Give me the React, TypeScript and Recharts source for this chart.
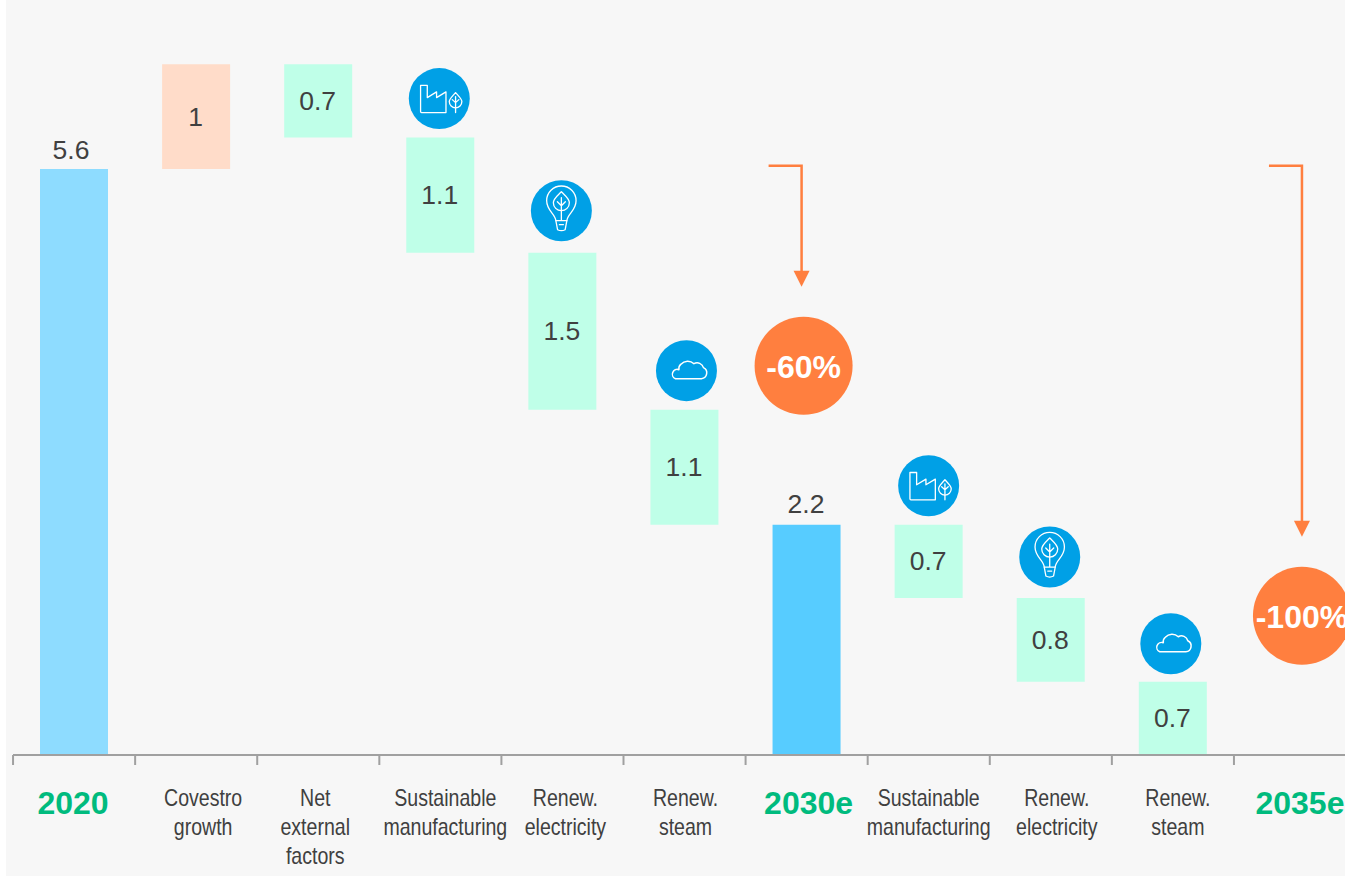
import React from "react";
import { BarChart, Bar, XAxis, YAxis, Cell, LabelList, ReferenceDot } from "recharts";

const categories = ["2020", "Covestro growth", "Net external factors", "Sustainable manufacturing", "Renew. electricity", "Renew. steam", "2030e", "Sustainable manufacturing ", "Renew. electricity ", "Renew. steam ", "2035e"];
const tickLines = [["2020"], ["Covestro", "growth"], ["Net", "external", "factors"], ["Sustainable", "manufacturing"], ["Renew.", "electricity"], ["Renew.", "steam"], ["2030e"], ["Sustainable", "manufacturing"], ["Renew.", "electricity"], ["Renew.", "steam"], ["2035e"]];
const baseValues = [0, 5.6, 5.9, 4.8, 3.3, 2.2, 0, 1.5, 0.7, 0, 0];
const barValues = [5.6, 1, 0.7, 1.1, 1.5, 1.1, 2.2, 0.7, 0.8, 0.7, 0];
const barKinds = ["light", "up", "down", "down", "down", "down", "mid", "down", "down", "down", "none"];
const icons = ["", "", "", "factory", "bulb", "cloud", "", "factory", "bulb", "cloud", ""];
const tickNudges = [-1, 7, -3, 5, 3, 1, 2, 0, 6, 5, 5];
const iconNudgeX = [0, 0, 0, 0, 0, 3, 0, 1, 0, -1, 0];
const iconLift = [0, 0, 0, 39, 42, 39, 0, 39, 41, 38, 0];

const rows = categories.map((name, i) => ({ name, base: baseValues[i], value: barValues[i] }));
const kindFill: Record<string, string> = { light: "#8edcff", mid: "#57ccff", up: "#ffdcc9", down: "#bfffe8", none: "transparent" };
const ORANGE = "#ff7f3f";
const BLUE = "#00a0e6";
const TICK_GRAY = "#a0a0a0";
const FONT = "'Liberation Sans', Arial, sans-serif";

function AxisTick(props: any) {
  const { x, y, index } = props;
  const lines = tickLines[index];
  const isYear = lines.length === 1;
  const cx = x + tickNudges[index];
  return (
    <g>
      <line x1={x - 61} x2={x - 61} y1={y} y2={y + 10} stroke={TICK_GRAY} strokeWidth={2} />
      {isYear ? (
        <text x={cx} y={y + 59} textAnchor="middle" fontFamily={FONT} fontWeight={700} fontSize={32} fill="#00bb7e">{lines[0]}</text>
      ) : (
        lines.map((l: string, i: number) => (
          <text key={i} transform={`translate(${cx},${y + 51 + i * 29}) scale(0.85,1)`} textAnchor="middle" fontFamily={FONT} fontSize={23} fill="#404040">{l}</text>
        ))
      )}
    </g>
  );
}

function ValueLabel(props: any) {
  const { x, y, width, height, index } = props;
  if (barKinds[index] === "none") return null;
  const above = barKinds[index] === "light" || barKinds[index] === "mid";
  const v = barValues[index];
  return (
    <text x={x + width / 2 - (index === 0 ? 3 : 0.5)} y={above ? y - (index === 0 ? 10 : 12) : y + height / 2 + 9} textAnchor="middle" fontFamily={FONT} fontSize={26.5} fill="#404040">{String(v)}</text>
  );
}

function Icon(props: any) {
  const { x, y, width, index } = props;
  const kind = icons[index];
  if (!kind) return null;
  const cx = x + width / 2 - 1 + iconNudgeX[index];
  const cy = y - iconLift[index];
  const s = { fill: "none", stroke: "#fff", strokeWidth: 1.3, strokeLinejoin: "round" as const, strokeLinecap: "round" as const };
  return (
    <g transform={`translate(${cx},${cy})`}>
      <circle r={30.5} fill={BLUE} />
      {kind === "factory" && (
        <g {...s}>
          <path d="M-18.7 -13.3 H-12 V-1 L-2.7 -6.7 V-1 L6.7 -6.7 V14 H-17.7 Q-18.7 14 -18.7 13 Z" />
          <path d="M16.3 -6 C13 -2 10 0 10 3 A6.3 6.3 0 0 0 22.6 3 C22.6 0 19.6 -2 16.3 -6 Z" />
          <path d="M16.3 -2 V14 M13 1 L16.3 4 L19.6 1" />
        </g>
      )}
      {kind === "bulb" && (
        <g {...s} transform="translate(0,-3)">
          <path d="M-5.5 13 C-6 6 -14.7 3 -14.7 -7 A14.7 14.7 0 0 1 14.7 -7 C14.7 3 6 6 5.5 13 L3.8 22 Q0 24 -3.8 22 Z" />
          <path d="M0 -16 C-4 -12 -8 -9 -8 -5 A8 8 0 0 0 8 -5 C8 -9 4 -12 0 -16 Z" />
          <path d="M0 -10 V13 M-4 -6 L0 -2 L4 -6 M-5.5 13 H5.5 M-2 17 H2" />
        </g>
      )}
      {kind === "cloud" && (
        <path {...s} strokeWidth={1.5} transform="translate(3,0)" d="M-14 8 H12 A5.8 5.8 0 0 0 14 -3 A6.5 6.5 0 0 0 4.5 -7 A9 9 0 0 0 -8.5 -6.5 A5.8 5.8 0 0 0 -10.5 -1 A4.8 4.8 0 0 0 -14 8 Z" />
      )}
    </g>
  );
}

function makeArrow(dropPx: number, shift: number) {
  return function Arrow(props: any) {
    const { cx, cy } = props;
    const vx = cx + shift;
    const left = vx - 33;
    const tip = cy + dropPx;
    return (
      <g>
        <path d={`M${left} ${cy} H${vx} V${tip - 14}`} fill="none" stroke={ORANGE} strokeWidth={2.5} />
        <path d={`M${vx - 8} ${tip - 16} H${vx + 8} L${vx} ${tip} Z`} fill={ORANGE} />
      </g>
    );
  };
}

function makeBadge(text: string, shift: number) {
  return function Badge(props: any) {
    const { cx, cy } = props;
    return (
      <g>
        <circle cx={cx + shift} cy={cy} r={49} fill={ORANGE} />
        <text x={cx + shift} y={cy + 12} textAnchor="middle" fontFamily={FONT} fontWeight={700} fontSize={32} fill="#fff">{text}</text>
      </g>
    );
  };
}

const Arrow60 = makeArrow(121, -5);
const Arrow100 = makeArrow(371, 7);
const Badge60 = makeBadge("-60%", -3);
const Badge100 = makeBadge("-100%", 7);

export default function App() {
  return (
    <div style={{ position: "absolute", left: 6, top: 0, width: 1339, height: 876, overflow: "hidden", background: "#f7f7f7" }}>
      <BarChart width={1357} height={876} data={rows} margin={{ top: 22.5, right: 7, bottom: 0, left: 7 }} barSize={68}>
        <YAxis hide domain={[0, 7]} />
        <XAxis dataKey="name" interval={0} height={121} tickSize={0} tickMargin={0} axisLine={{ stroke: TICK_GRAY, strokeWidth: 2 }} tickLine={false} tick={AxisTick} />
        <Bar dataKey="base" stackId="w" fill="transparent" isAnimationActive={false} />
        <Bar dataKey="value" stackId="w" isAnimationActive={false}>
          {rows.map((r, i) => <Cell key={r.name} fill={kindFill[barKinds[i]]} />)}
          <LabelList dataKey="value" content={ValueLabel} />
          <LabelList dataKey="value" content={Icon} />
        </Bar>
        <ReferenceDot x="2030e" y={5.63} r={1} shape={Arrow60} ifOverflow="visible" />
        <ReferenceDot x="2035e" y={5.63} r={1} shape={Arrow100} ifOverflow="visible" />
        <ReferenceDot x="2030e" y={3.72} r={49} shape={Badge60} ifOverflow="visible" />
        <ReferenceDot x="2035e" y={1.33} r={49} shape={Badge100} ifOverflow="visible" />
      </BarChart>
    </div>
  );
}
